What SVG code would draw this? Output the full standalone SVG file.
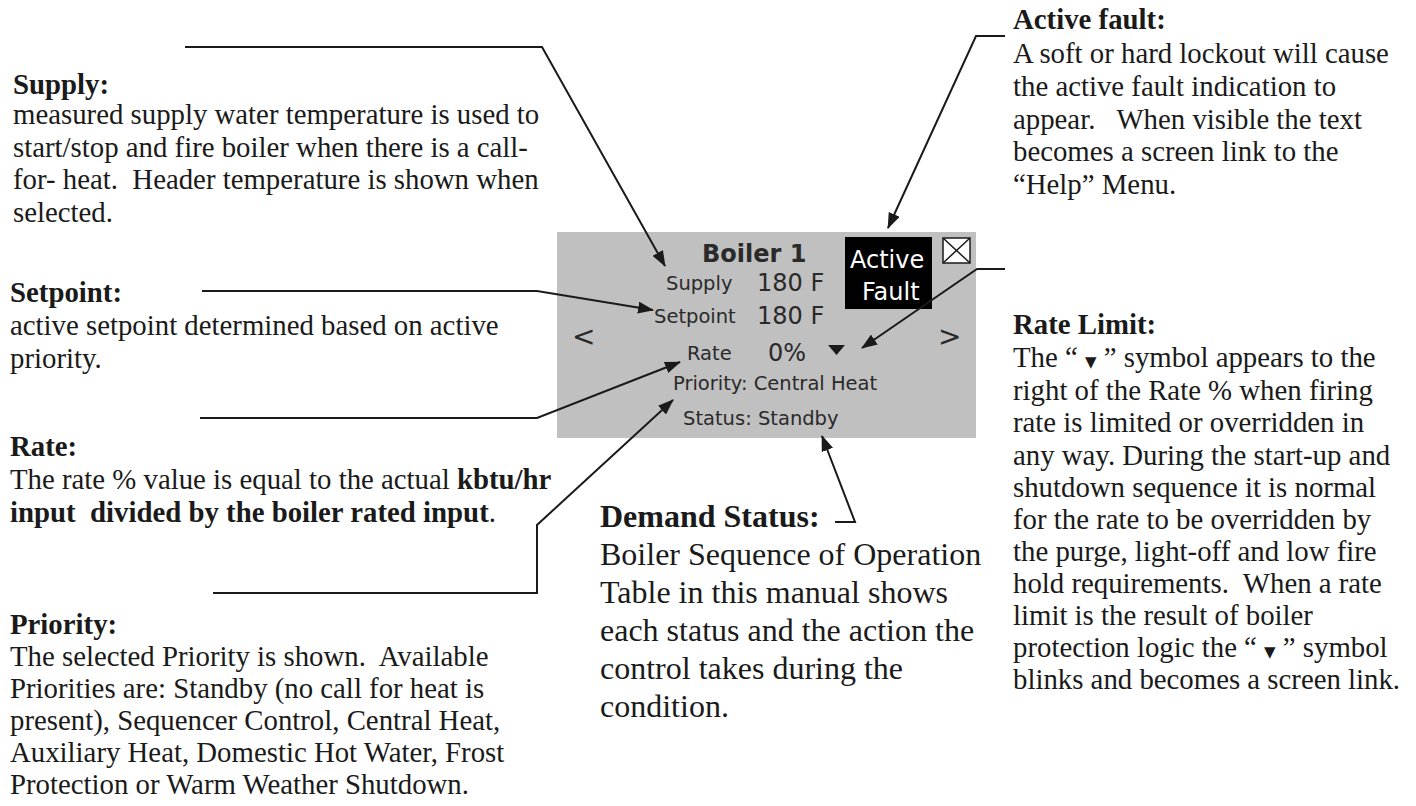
<svg xmlns="http://www.w3.org/2000/svg" width="1416" height="806" viewBox="0 0 1416 806">
<defs>
<style>
.t{font-family:"Liberation Serif","Times New Roman",serif;font-size:28.8px;fill:#1a1a1a;white-space:pre}
.b{font-weight:bold}
.d{font-family:"Liberation Serif","Times New Roman",serif;font-size:32px;fill:#1a1a1a;white-space:pre}
.s{font-family:"DejaVu Sans",Tahoma,sans-serif;fill:#2a2a2a;white-space:pre}
.lbl{font-size:19.5px}
.val{font-size:24px}
.tri{font-family:"DejaVu Sans",sans-serif;font-size:15px}
.c{fill:none;stroke:#1a1a1a;stroke-width:2}
</style>
<marker id="ah" markerWidth="16" markerHeight="12" refX="15" refY="6" orient="auto" markerUnits="userSpaceOnUse">
<path d="M0,0 L16,6 L0,12 Z" fill="#1a1a1a"/>
</marker>
</defs>
<rect width="1416" height="806" fill="#ffffff"/>

<g id="display">
<rect x="557" y="232" width="419" height="206" fill="#c0c0c0"/>
<text class="s b" x="702" y="262" style="font-size:24px">Boiler 1</text>
<text class="s lbl" x="666" y="290">Supply</text>
<text class="s val" x="757" y="291">180 F</text>
<text class="s lbl" x="654" y="323">Setpoint</text>
<text class="s val" x="757" y="324">180 F</text>
<text class="s" x="572" y="346" style="font-size:28px">&lt;</text>
<text class="s" x="938" y="346" style="font-size:28px">&gt;</text>
<text class="s lbl" x="687" y="360">Rate</text>
<text class="s val" x="768" y="361">0%</text>
<polygon points="828,345 845,345 836.5,355" fill="#1a1a1a"/>
<text class="s lbl" x="673" y="390">Priority: Central Heat</text>
<text class="s lbl" x="683" y="425">Status: Standby</text>
<rect x="845" y="237" width="87" height="72" fill="#000000"/>
<text class="s" x="850" y="268" style="font-size:24px;fill:#ffffff">Active</text>
<text class="s" x="862" y="300" style="font-size:24px;fill:#ffffff">Fault</text>
<rect x="943" y="238" width="27" height="25" fill="#ffffff" stroke="#1a1a1a" stroke-width="1.5"/>
<path d="M943,238 L970,263 M970,238 L943,263" stroke="#1a1a1a" stroke-width="1.5"/>
</g>

<g id="supply-note">
<text class="t b" x="13" y="94">Supply:</text>
<text class="t" x="13" y="124">measured supply water temperature is used to</text>
<text class="t" x="13" y="156.5">start/stop and fire boiler when there is a call-</text>
<text class="t" x="13" y="189">for- heat.  Header temperature is shown when</text>
<text class="t" x="13" y="221.5">selected.</text>
</g>

<g id="setpoint-note">
<text class="t b" x="10" y="302">Setpoint:</text>
<text class="t" x="10" y="335">active setpoint determined based on active</text>
<text class="t" x="10" y="367.5">priority.</text>
</g>

<g id="rate-note">
<text class="t b" x="10" y="456">Rate:</text>
<text class="t" x="10" y="489">The rate % value is equal to the actual <tspan class="b">kbtu/hr</tspan></text>
<text class="t" x="10" y="521.5"><tspan class="b">input  divided by the boiler rated input</tspan>.</text>
</g>

<g id="priority-note">
<text class="t b" x="10" y="634">Priority:</text>
<text class="t" x="10" y="666">The selected Priority is shown.  Available</text>
<text class="t" x="10" y="698">Priorities are: Standby (no call for heat is</text>
<text class="t" x="10" y="730">present), Sequencer Control, Central Heat,</text>
<text class="t" x="10" y="762">Auxiliary Heat, Domestic Hot Water, Frost</text>
<text class="t" x="10" y="794">Protection or Warm Weather Shutdown.</text>
</g>

<g id="demand-status-note">
<text class="d b" x="600" y="527">Demand Status:</text>
<text class="d" x="600" y="565">Boiler Sequence of Operation</text>
<text class="d" x="600" y="603">Table in this manual shows</text>
<text class="d" x="600" y="641">each status and the action the</text>
<text class="d" x="600" y="679">control takes during the</text>
<text class="d" x="600" y="717">condition.</text>
</g>

<g id="active-fault-note">
<text class="t b" x="1013" y="29">Active fault:</text>
<text class="t" x="1013" y="63">A soft or hard lockout will cause</text>
<text class="t" x="1013" y="96">the active fault indication to</text>
<text class="t" x="1013" y="128.5">appear.   When visible the text</text>
<text class="t" x="1013" y="161">becomes a screen link to the</text>
<text class="t" x="1013" y="193.5">“Help” Menu.</text>
</g>

<g id="rate-limit-note">
<text class="t b" x="1013" y="334">Rate Limit:</text>
<text class="t" x="1013" y="367">The “ <tspan class="tri">▼</tspan> ” symbol appears to the</text>
<text class="t" x="1013" y="399.5">right of the Rate % when firing</text>
<text class="t" x="1013" y="432">rate is limited or overridden in</text>
<text class="t" x="1013" y="464.5">any way. During the start-up and</text>
<text class="t" x="1013" y="497">shutdown sequence it is normal</text>
<text class="t" x="1013" y="529">for the rate to be overridden by</text>
<text class="t" x="1013" y="561">the purge, light-off and low fire</text>
<text class="t" x="1013" y="593">hold requirements.  When a rate</text>
<text class="t" x="1013" y="625">limit is the result of boiler</text>
<text class="t" x="1013" y="657">protection logic the “ <tspan class="tri">▼</tspan> ” symbol</text>
<text class="t" x="1013" y="689">blinks and becomes a screen link.</text>
</g>

<g id="connectors">
<path class="c" d="M185,47 H542 L665,266" marker-end="url(#ah)"/>
<path class="c" d="M202,291 H537 L653,310" marker-end="url(#ah)"/>
<path class="c" d="M200,418 H537 L680,362" marker-end="url(#ah)"/>
<path class="c" d="M213,593 H537 V525 L673,400" marker-end="url(#ah)"/>
<path class="c" d="M1005,36 H976 L888,228" marker-end="url(#ah)"/>
<path class="c" d="M1005,269 H977 L862,348" marker-end="url(#ah)"/>
<path class="c" d="M835,522 H855 L822,436" marker-end="url(#ah)"/>
</g>
</svg>
